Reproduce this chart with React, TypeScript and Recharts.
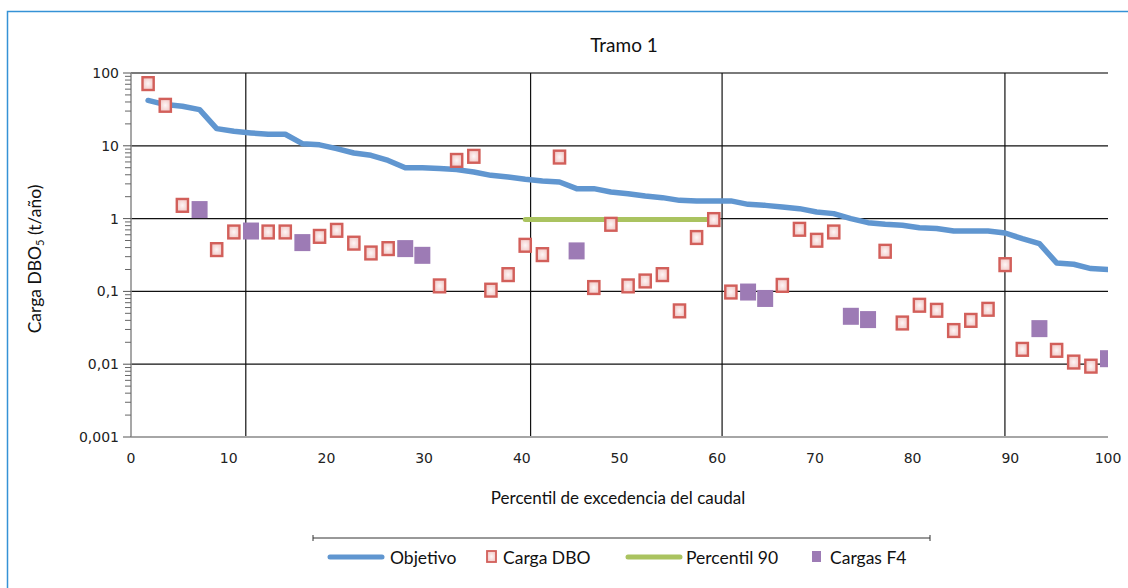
import React from 'react';
import { ComposedChart, Line, Scatter, XAxis, YAxis, ReferenceLine } from 'recharts';

// Percentil de excedencia (x) for each of the 57 ranked records
const percentil = [
  1.75, 3.51, 5.26, 7.02, 8.77, 10.53, 12.28, 14.04, 15.79, 17.54,
  19.3, 21.05, 22.81, 24.56, 26.32, 28.07, 29.82, 31.58, 33.33, 35.09,
  36.84, 38.6, 40.35, 42.11, 43.86, 45.61, 47.37, 49.12, 50.88, 52.63,
  54.39, 56.14, 57.89, 59.65, 61.4, 63.16, 64.91, 66.67, 68.42, 70.18,
  71.93, 73.68, 75.44, 77.19, 78.95, 80.7, 82.46, 84.21, 85.96, 87.72,
  89.47, 91.23, 92.98, 94.74, 96.49, 98.25, 100,
];

const objetivo = [
  42, 36.8, 35, 31.4, 17.2, 15.8, 15.0, 14.4, 14.4, 10.7,
  10.3, 9.15, 7.96, 7.4, 6.3, 5.0, 5.0, 4.86, 4.71, 4.37,
  3.93, 3.73, 3.47, 3.28, 3.18, 2.58, 2.58, 2.32, 2.2, 2.04,
  1.94, 1.78, 1.75, 1.75, 1.75, 1.57, 1.52, 1.44, 1.37, 1.23,
  1.17, 1.0, 0.88, 0.835, 0.81, 0.75, 0.73, 0.675, 0.675, 0.675,
  0.634, 0.53, 0.454, 0.246, 0.236, 0.206, 0.2,
];

const cargaDBO: (number | null)[] = [
  71.5, 36, 1.52, null, 0.375, 0.655, null, 0.655, 0.655, null,
  0.57, 0.69, 0.46, 0.337, 0.387, null, null, 0.119, 6.3, 7.17,
  0.104, 0.17, 0.43, 0.32, 7.0, null, 0.113, 0.835, 0.119, 0.139,
  0.17, 0.054, 0.55, 0.97, 0.098, null, null, 0.121, 0.713, 0.504,
  0.655, null, null, 0.356, 0.0368, 0.0645, 0.055, 0.029, 0.04, 0.0568,
  0.233, 0.016, null, 0.0155, 0.0107, 0.0094, null,
];

const cargasF4: (number | null)[] = [
  null, null, null, 1.33, null, null, 0.675, null, null, 0.468,
  null, null, null, null, null, 0.387, 0.313, null, null, null,
  null, null, null, null, null, 0.36, null, null, null, null,
  null, null, null, null, null, 0.098, 0.08, null, null, null,
  null, 0.0455, 0.041, null, null, null, null, null, null, null,
  null, null, 0.0308, null, null, null, 0.0119,
];

const percentil90: (number | null)[] = [
  null, null, null, null, null, null, null, null, null, null,
  null, null, null, null, null, null, null, null, null, null,
  null, null, 0.97, 0.97, 0.97, 0.97, 0.97, 0.97, 0.97, 0.97,
  0.97, 0.97, 0.97, 0.97, null, null, null, null, null, null,
  null, null, null, null, null, null, null, null, null, null,
  null, null, null, null, null, null, null,
];

const verticalMarks = [11.75, 40.9, 60.5, 89.45];
const xTicks = [0, 10, 20, 30, 40, 50, 60, 70, 80, 90, 100];
const yDecades = [0.001, 0.01, 0.1, 1, 10, 100];
const yDecadeLabels = ['0,001', '0,01', '0,1', '1', '10', '100'];
const minorMultipliers = [2, 3, 4, 5, 6, 7, 8, 9];

const yTicks: number[] = [];
yDecades.forEach((d, i) => {
  yTicks.push(d);
  if (i < yDecades.length - 1) minorMultipliers.forEach((m) => yTicks.push(+(d * m).toPrecision(3)));
});

const objData = percentil.map((x, i) => ({ x, obj: objetivo[i] }));
const p90Data = percentil.map((x, i) => ({ x, p90: percentil90[i] })).filter((r) => r.p90 != null);
const dboData = percentil.map((x, i) => ({ x, y: cargaDBO[i] })).filter((r) => r.y != null);
const f4Data = percentil.map((x, i) => ({ x, y: cargasF4[i] })).filter((r) => r.y != null);

const PLOT_LEFT = 131;
const TICK_FONT = '"DejaVu Sans", Verdana, sans-serif';
const TEXT_FONT = 'Lato, "Open Sans", sans-serif';

const BLUE = '#6096d0';
const GREEN = '#aac360';
const PURPLE = '#9d7bb5';
const RED = '#d25f5a';

const DboShape = (p: any) => {
  const { cx, cy } = p;
  if (cx == null || cy == null || isNaN(cy)) return <g />;
  return (
    <rect x={cx - 5.6} y={cy - 6.4} width={11.2} height={12.8} fill="url(#dboFill)" stroke={RED} strokeWidth={2.4} />
  );
};

const F4Shape = (p: any) => {
  const { cx, cy } = p;
  if (cx == null || cy == null || isNaN(cy)) return <g />;
  return <rect x={cx - 8} y={cy - 8.5} width={16} height={17} fill={PURPLE} />;
};

const YTick = (p: any) => {
  const { y, payload } = p;
  const v = payload.value;
  const di = yDecades.findIndex((d) => Math.abs(d - v) / d < 1e-6);
  if (di >= 0) {
    return (
      <g>
        <line x1={PLOT_LEFT - 8} x2={PLOT_LEFT} y1={y} y2={y} stroke="#555" strokeWidth={1} />
        <text x={119} y={y} textAnchor="end" dominantBaseline="central" fontFamily={TICK_FONT} fontSize={14} fill="#222">
          {yDecadeLabels[di]}
        </text>
      </g>
    );
  }
  return <line x1={PLOT_LEFT - 6} x2={PLOT_LEFT} y1={y} y2={y} stroke="#666" strokeWidth={1} />;
};

const XTick = (p: any) => {
  const { x, payload } = p;
  return (
    <text x={x} y={458} textAnchor="middle" dominantBaseline="central" fontFamily={TICK_FONT} fontSize={14} fill="#222">
      {payload.value}
    </text>
  );
};

export default function App() {
  return (
    <div style={{ position: 'absolute', left: 0, top: 0, width: 1128, height: 588, overflow: 'hidden', background: '#fff' }}>
      <style>{'html,body{margin:0;overflow:hidden;}'}</style>
      <svg width={0} height={0} style={{ position: 'absolute' }}>
        <defs>
          <radialGradient id="dboFill" cx="50%" cy="50%" r="60%">
            <stop offset="0%" stopColor="#fdf6f6" />
            <stop offset="100%" stopColor="#f1c3c1" />
          </radialGradient>
        </defs>
      </svg>
      <div style={{ position: 'absolute', left: 0, top: 0 }}>
        <ComposedChart width={1128} height={588} margin={{ top: 73, right: 20, left: 0, bottom: 121 }}>
          <XAxis
            type="number"
            dataKey="x"
            domain={[0, 100]}
            ticks={xTicks}
            interval={0}
            tickLine={false}
            tick={<XTick />}
            height={30}
            axisLine={{ stroke: '#a6a6a6', strokeWidth: 2 }}
            allowDataOverflow
          />
          <YAxis
            type="number"
            dataKey="y"
            scale="log"
            domain={[0.001, 100]}
            ticks={yTicks}
            interval={0}
            tickLine={false}
            tick={<YTick />}
            width={131}
            axisLine={{ stroke: '#8a8a8a', strokeWidth: 1.5 }}
            allowDataOverflow
          />
          {yDecades.slice(1).map((d) => (
            <ReferenceLine
              key={'h' + d}
              y={d}
              stroke={d === 100 ? '#7a7a7a' : '#111'}
              strokeWidth={d === 100 ? 2 : 1.2}
              ifOverflow="extendDomain"
            />
          ))}
          {verticalMarks.map((v) => (
            <ReferenceLine key={'v' + v} x={v} stroke="#111" strokeWidth={1.2} />
          ))}
          <Line
            data={objData}
            dataKey="obj"
            type="linear"
            stroke={BLUE}
            strokeWidth={5.5}
            strokeLinecap="round"
            strokeLinejoin="round"
            dot={false}
            activeDot={false}
            isAnimationActive={false}
          />
          <Line
            data={p90Data}
            dataKey="p90"
            type="linear"
            stroke={GREEN}
            strokeWidth={5}
            strokeLinecap="round"
            dot={false}
            activeDot={false}
            isAnimationActive={false}
          />
          <Scatter data={dboData} dataKey="y" shape={<DboShape />} isAnimationActive={false} />
          <Scatter data={f4Data} dataKey="y" shape={<F4Shape />} isAnimationActive={false} />
        </ComposedChart>
      </div>
      <svg width={1128} height={588} style={{ position: 'absolute', left: 0, top: 0, pointerEvents: 'none' }}>
        <path d="M7.5,600 L7.5,11.5 L1140,11.5" fill="none" stroke="#3592d6" strokeWidth={1.5} />
        <text x={624} y={44} textAnchor="middle" dominantBaseline="central" fontFamily={TEXT_FONT} fontSize={19} fill="#111">
          Tramo 1
        </text>
        <text x={618} y={497} textAnchor="middle" dominantBaseline="central" fontFamily={TEXT_FONT} fontSize={17} fill="#111">
          Percentil de excedencia del caudal
        </text>
        <text
          transform="translate(34,259) rotate(-90)"
          textAnchor="middle"
          dominantBaseline="central"
          fontFamily={TEXT_FONT}
          fontSize={17.5}
          fill="#111"
        >
          Carga DBO
          <tspan fontSize={11} dy={5}>5</tspan>
          <tspan dy={-5}> (t/año)</tspan>
        </text>
        <g>
          <line x1={313} x2={930} y1={538} y2={538} stroke="#333" strokeWidth={1} />
          <line x1={313} x2={313} y1={535} y2={541} stroke="#333" strokeWidth={1} />
          <line x1={930} x2={930} y1={535} y2={541} stroke="#333" strokeWidth={1} />
          <line x1={330} x2={382} y1={557} y2={557} stroke={BLUE} strokeWidth={5} strokeLinecap="round" />
          <text x={390} y={557} dominantBaseline="central" fontFamily={TEXT_FONT} fontSize={17.5} fill="#111">Objetivo</text>
          <rect x={487} y={551} width={9} height={11} fill="url(#dboFill)" stroke={RED} strokeWidth={1.8} />
          <text x={503} y={557} dominantBaseline="central" fontFamily={TEXT_FONT} fontSize={17.5} fill="#111">Carga DBO</text>
          <line x1={628} x2={680} y1={557} y2={557} stroke={GREEN} strokeWidth={5} strokeLinecap="round" />
          <text x={686} y={557} dominantBaseline="central" fontFamily={TEXT_FONT} fontSize={17.5} fill="#111">Percentil 90</text>
          <rect x={812} y={551} width={9} height={11} fill={PURPLE} />
          <text x={830} y={557} dominantBaseline="central" fontFamily={TEXT_FONT} fontSize={17.5} fill="#111">Cargas F4</text>
        </g>
      </svg>
    </div>
  );
}
